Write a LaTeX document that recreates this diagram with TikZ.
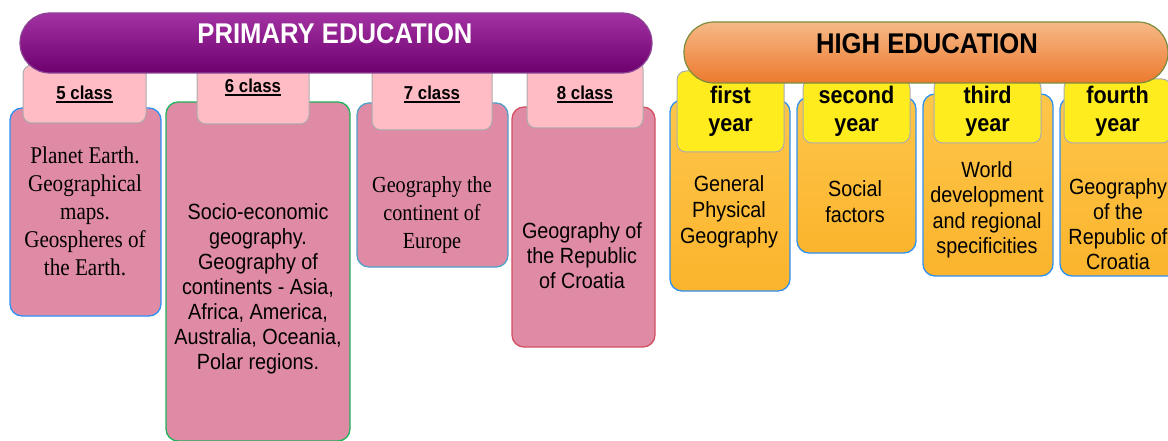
\documentclass[tikz,border=0pt]{standalone}
\usepackage{fontspec}
\setmainfont[FakeStretch=0.9]{Liberation Sans}
\newfontfamily\timesfont[FakeStretch=0.88]{Liberation Serif}
\usetikzlibrary{positioning}

\definecolor{boxpink}{RGB}{224,139,166}
\definecolor{tabpink}{RGB}{255,188,197}
\definecolor{tabgray}{RGB}{172,172,172}
\definecolor{tabyellow}{RGB}{255,236,30}
\definecolor{purptop}{RGB}{163,50,163}
\definecolor{purpbot}{RGB}{110,0,110}
\definecolor{purpline}{RGB}{140,70,150}
\definecolor{orngtop}{RGB}{246,184,135}
\definecolor{orngbot}{RGB}{236,122,45}
\definecolor{orngline}{RGB}{125,140,60}
\definecolor{ybtop}{RGB}{254,198,74}
\definecolor{ybbot}{RGB}{251,180,45}
\definecolor{lineblue}{RGB}{45,145,245}
\definecolor{linegreen}{RGB}{30,180,90}
\definecolor{linesteel}{RGB}{80,160,200}
\definecolor{linered}{RGB}{210,80,95}

\newcommand\clsul[1]{\setbox0=\hbox{#1}\rlap{\rule[-3.5pt]{\wd0}{1.8pt}}\box0}

\begin{document}
\begin{tikzpicture}[x=1pt,y=-1pt,
	pinkbox/.style={draw,line width=1.3pt,fill=boxpink,rounded corners=12pt,inner sep=0pt},
	orangebox/.style={draw=lineblue,line width=1.3pt,top color=ybtop,bottom color=ybbot,rounded corners=12pt,inner sep=0pt},
	classtab/.style={draw=tabgray,line width=1pt,fill=tabpink,rounded corners=9pt,inner sep=0pt,font=\bfseries\fontsize{18.7}{22}\selectfont},
	yeartab/.style={draw=tabgray,line width=1pt,fill=tabyellow,rounded corners=9pt,inner sep=0pt,align=center,font=\bfseries\fontsize{24}{28}\selectfont},
	header/.style={line width=1.2pt,rounded corners=30pt,inner sep=0pt},
	sanstext/.style={align=center,inner sep=0pt,font=\fontsize{22}{25}\selectfont},
	seriftext/.style={align=center,inner sep=0pt,font=\timesfont\fontsize{24}{28}\selectfont}]
	\useasboundingbox (0,0) rectangle (1168,441);
	\clip (0,0) rectangle (1168,441);

	% primary education
	\node[pinkbox,draw=lineblue,minimum width=151pt,minimum height=208pt] (b5) at (85.5,212) {};
	\node[pinkbox,draw=linegreen,minimum width=184pt,minimum height=339pt] (b6) at (258,271.5) {};
	\node[pinkbox,draw=linesteel,minimum width=151pt,minimum height=164pt] (b7) at (432.5,185) {};
	\node[pinkbox,draw=linered,minimum width=143pt,minimum height=240pt] (b8) at (583.5,227) {};

	\node[seriftext] (b5txt) at (85,211) {Planet Earth.\\Geographical\\maps.\\Geospheres of\\the Earth.};
	\node[sanstext] (b6txt) at (258,289) {Socio-economic\\geography.\\Geography of\\continents - Asia,\\Africa, America,\\Australia, Oceania,\\Polar regions.};
	\node[seriftext,font=\timesfont\fontsize{23}{28}\selectfont] (b7txt) at (432,215) {Geography the\\continent of\\Europe};
	\node[sanstext] (b8txt) at (582,256) {Geography of\\the Republic\\of Croatia};

	\node[classtab,minimum width=123pt,minimum height=58pt] (t5) at (84.5,94) {\clsul{5 class}};
	\node[classtab,minimum width=112pt,minimum height=74pt] (t6) at (253,87) {\clsul{6 class}};
	\node[classtab,minimum width=120pt,minimum height=72pt] (t7) at (432,94) {\clsul{7 class}};
	\node[classtab,minimum width=116pt,minimum height=68pt] (t8) at (585,94) {\clsul{8 class}};

	\node[header,draw=purpline,top color=purptop,bottom color=purpbot,minimum width=632pt,minimum height=60pt] (prim) at (336,43) {};
	\node[text=white,font=\bfseries\fontsize{28.5}{32}\selectfont] (primtxt) at (335,34) {PRIMARY EDUCATION};

	% high education
	\node[orangebox,minimum width=120pt,minimum height=191pt] (o1) at (730,195.5) {};
	\node[orangebox,minimum width=119pt,minimum height=156pt] (o2) at (856.5,175) {};
	\node[orangebox,minimum width=130pt,minimum height=182pt] (o3) at (988,185) {};
	\node[orangebox,minimum width=120pt,minimum height=179pt] (o4) at (1120,186.5) {};

	\node[sanstext,font=\fontsize{22}{26}\selectfont] (o1txt) at (729,212) {General\\Physical\\Geography};
	\node[sanstext,font=\fontsize{22}{26}\selectfont] (o2txt) at (855,202) {Social\\factors};
	\node[sanstext,font=\fontsize{22}{25.5}\selectfont] (o3txt) at (987,210) {World\\development\\and regional\\specificities};
	\node[sanstext] (o4txt) at (1118,224) {Geography\\of the\\Republic of\\Croatia};

	\node[yeartab,minimum width=107pt,minimum height=81pt] (y1) at (730.5,111.5) {first\\year};
	\node[yeartab,minimum width=107pt,minimum height=64pt] (y2) at (856.5,111) {second\\year};
	\node[yeartab,minimum width=107pt,minimum height=64pt] (y3) at (987.5,111) {third\\year};
	\node[yeartab,minimum width=107pt,minimum height=64pt] (y4) at (1117.5,111) {fourth\\year};

	\node[header,draw=orngline,top color=orngtop,bottom color=orngbot,minimum width=484pt,minimum height=61pt] (high) at (926,52.5) {};
	\node[font=\bfseries\fontsize{28.5}{32}\selectfont] (hightxt) at (927,44) {HIGH EDUCATION};
\end{tikzpicture}
\end{document}
